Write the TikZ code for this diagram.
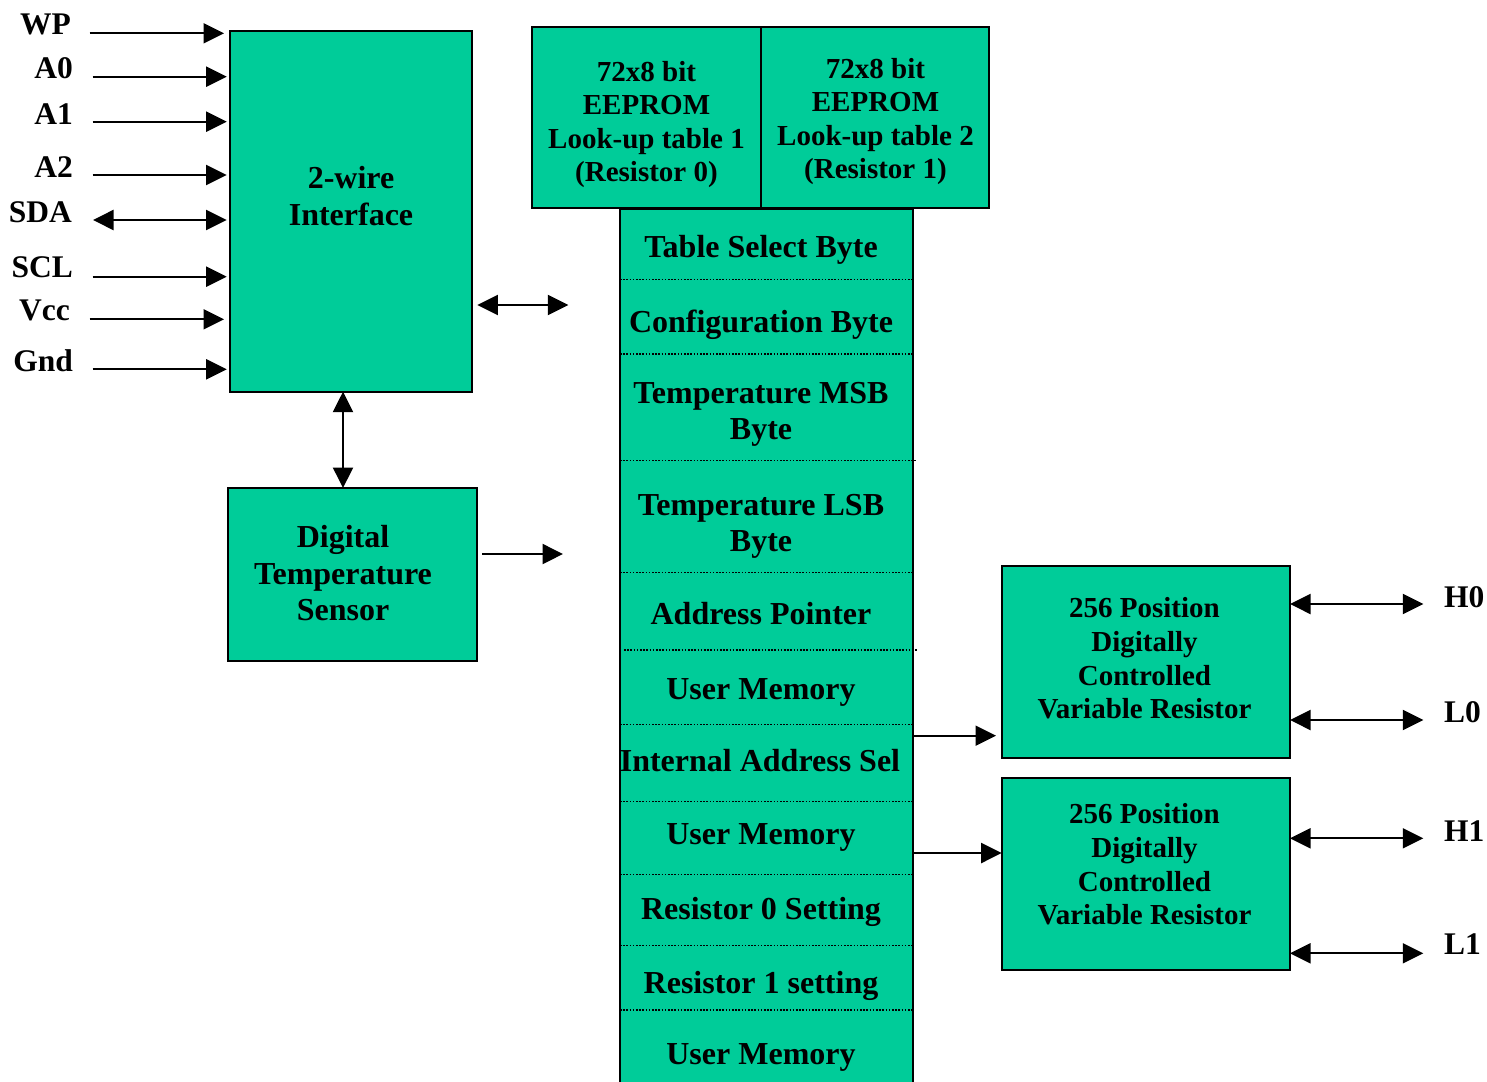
\documentclass[tikz,border=0pt]{standalone}
\usepackage{fontspec}
\setmainfont{Liberation Serif}
\usetikzlibrary{arrows.meta}
\definecolor{boxfill}{RGB}{0,204,153}
\begin{document}
\begin{tikzpicture}[x=1pt,y=-1pt,
  box/.style={draw=black, line width=2pt, fill=boxfill, inner sep=0pt, outer sep=0pt},
  big/.style={font=\bfseries\fontsize{32}{36.5}\selectfont, align=center, inner sep=0pt},
  small/.style={font=\bfseries\fontsize{29}{33.6}\selectfont, align=center, inner sep=0pt},
  pin/.style={font=\bfseries\fontsize{31.5}{36}\selectfont, inner sep=0pt},
  arr/.style={line width=2pt, -{Triangle[length=20.5pt,width=20pt]}},
  darr/.style={line width=2pt, {Triangle[length=20.5pt,width=20pt]}-{Triangle[length=20.5pt,width=20pt]}},
  sepline/.style={line width=1.4pt, dash pattern=on 1.6pt off 1.6pt}]
\useasboundingbox[fill=white] (0,0) rectangle (1487,1081);

% ---------- 2-wire interface ----------
\node[box, minimum width=242, minimum height=361] (twi) at (351.3,211.2) {};
\node[big] (twitxt) at (351,196) {2-wire\\Interface};

% ---------- pins ----------
\node[pin, anchor=east] (WP)  at (71,24)  {WP};
\node[pin, anchor=east] (A0)  at (73,68)  {A0};
\node[pin, anchor=east] (A1)  at (73,114) {A1};
\node[pin, anchor=east] (A2)  at (73,167) {A2};
\node[pin, anchor=east] (SDA) at (72,212) {SDA};
\node[pin, anchor=east] (SCL) at (73,267) {SCL};
\node[pin, anchor=east] (Vcc) at (70,310) {Vcc};
\node[pin, anchor=east] (Gnd) at (73,361) {Gnd};

\coordinate (pWP)  at (89.5,33.3);
\coordinate (pA0)  at (92.5,76.7);
\coordinate (pA1)  at (92.5,121.7);
\coordinate (pA2)  at (92.5,175);
\coordinate (pSDA) at (93,220);
\coordinate (pSCL) at (92.5,276.7);
\coordinate (pVcc) at (89.5,319.3);
\coordinate (pGnd) at (92.5,369.3);

\draw[arr, shorten >=6.3pt] (pWP) -- (pWP -| twi.west);
\draw[arr, shorten >=3.6pt] (pA0) -- (pA0 -| twi.west);
\draw[arr, shorten >=3.6pt] (pA1) -- (pA1 -| twi.west);
\draw[arr, shorten >=3.6pt] (pA2) -- (pA2 -| twi.west);
\draw[darr, shorten >=3.6pt] (pSDA) -- (pSDA -| twi.west);
\draw[arr, shorten >=3.6pt] (pSCL) -- (pSCL -| twi.west);
\draw[arr, shorten >=6.3pt] (pVcc) -- (pVcc -| twi.west);
\draw[arr, shorten >=3.6pt] (pGnd) -- (pGnd -| twi.west);

% ---------- register column ----------
\node[box, minimum width=293, minimum height=900, anchor=north] (reg) at (766.6,209) {};
\draw[sepline] (620,279.3) -- (913,279.3);
\draw[sepline] (620,354) -- (913,354);
\draw[sepline] (620,460.7) -- (916.5,460.7);
\draw[sepline] (620,572.7) -- (913,572.7);
\draw[sepline] (624,650) -- (917,650);
\draw[sepline] (620,724.7) -- (913,724.7);
\draw[sepline] (620,801.7) -- (913,801.7);
\draw[sepline] (620,874.5) -- (913,874.5);
\draw[sepline] (620,945.7) -- (913,945.7);
\draw[sepline] (620,1010) -- (913,1010);

\node[big] (r1) at (761,249.5) {Table Select Byte};
\node[big] (r2) at (761,324.5) {Configuration Byte};
\node[big] (r3) at (761,414.5) {Temperature MSB\\Byte};
\node[big] (r4) at (761,526.5) {Temperature LSB\\Byte};
\node[big] (r5) at (761,614) {Address Pointer};
\node[big] (r6) at (761,692) {User Memory};
\node[big] (r7) at (760,761) {Internal Address Sel};
\node[big] (r8) at (761,837.5) {User Memory};
\node[big] (r9) at (761,911.5) {Resistor 0 Setting};
\node[big] (r10) at (761,985.5) {Resistor 1 setting};
\node[big] (r11) at (761,1057.5) {User Memory};

% ---------- EEPROM tables ----------
\node[box, minimum width=228.4, minimum height=181] (ee1) at (646.5,117.8) {};
\node[box, minimum width=228.3, minimum height=181] (ee2) at (874.85,117.8) {};
\node[small] (ee1t) at (646.5,124.5) {72x8 bit\\EEPROM\\Look-up table 1\\(Resistor 0)};
\node[small] (ee2t) at (875.5,121.5) {72x8 bit\\EEPROM\\Look-up table 2\\(Resistor 1)};

% ---------- temperature sensor ----------
\node[box, minimum width=249, minimum height=173] (sens) at (352.5,574.5) {};
\node[big] (senst) at (343,573.5) {Digital\\Temperature\\Sensor};

% ---------- resistors ----------
\node[box, minimum width=288.3, minimum height=192.3] (res0) at (1145.85,662.15) {};
\node[box, minimum width=288.3, minimum height=191.7] (res1) at (1145.85,874.15) {};
\node[small] (res0t) at (1144.5,658.5) {256 Position\\Digitally\\Controlled\\Variable Resistor};
\node[small] (res1t) at (1144.5,864.5) {256 Position\\Digitally\\Controlled\\Variable Resistor};

% ---------- internal connectors ----------
\coordinate (vx) at (343,0);
\draw[darr] (twi.south -| vx) -- (sens.north -| vx);

\coordinate (busA) at (568.3,305);
\draw[darr, shorten <=5pt] (twi.east |- busA) -- (busA);
\coordinate (busB) at (563,554);
\draw[arr, shorten <=5pt] (sens.east |- busB) -- (busB);

\coordinate (y736) at (0,735.7);
\coordinate (y853) at (0,853);
\draw[arr, shorten >=5.7pt] (reg.east |- y736) -- (res0.west |- y736);
\draw[arr] (reg.east |- y853) -- (res1.west |- y853);

% ---------- outputs ----------
\coordinate (eH0) at (1423.3,604);
\coordinate (eL0) at (1423.3,720);
\coordinate (eH1) at (1423.3,838.3);
\coordinate (eL1) at (1423.3,953.3);
\draw[darr] (res0.east |- eH0) -- (eH0);
\draw[darr] (res0.east |- eL0) -- (eL0);
\draw[darr] (res1.east |- eH1) -- (eH1);
\draw[darr] (res1.east |- eL1) -- (eL1);

\node[pin, anchor=west] (H0) at (1444,597) {H0};
\node[pin, anchor=west] (L0) at (1444,712) {L0};
\node[pin, anchor=west] (H1) at (1444,831) {H1};
\node[pin, anchor=west] (L1) at (1444,944) {L1};
\end{tikzpicture}
\end{document}
